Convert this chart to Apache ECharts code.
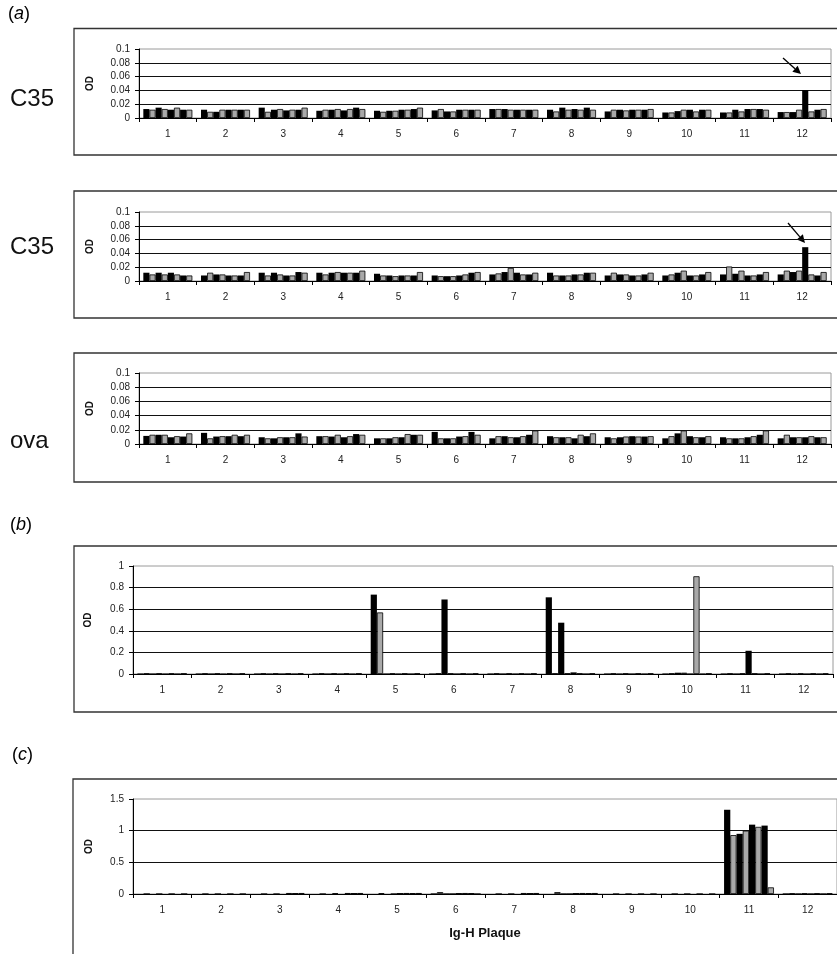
<!DOCTYPE html>
<html>
<head>
<meta charset="utf-8">
<script src="https://cdn.jsdelivr.net/npm/echarts@6/dist/echarts.min.js"></script>
<style>
html,body{margin:0;padding:0;background:#fff;}
#chart{width:837px;height:954px;}
</style>
</head>
<body>
<div id="chart"></div>
<script>
// ---- data ----
const categories = ['1','2','3','4','5','6','7','8','9','10','11','12'];
const panelLabels = ['C35', 'C35', 'ova'];
const xAxisTitle = 'Ig-H Plaque';
const yAxisTitle = 'OD';

// each row = one plaque group (1..12), 8 wells alternating black / gray
const c35First = [
  [0.013,0.012,0.015,0.013,0.012,0.015,0.012,0.012],
  [0.012,0.009,0.009,0.012,0.012,0.012,0.012,0.012],
  [0.015,0.009,0.012,0.013,0.011,0.012,0.012,0.015],
  [0.0105,0.012,0.012,0.013,0.011,0.013,0.015,0.013],
  [0.0105,0.009,0.0105,0.0105,0.012,0.012,0.013,0.015],
  [0.011,0.013,0.0095,0.0095,0.012,0.012,0.012,0.012],
  [0.013,0.013,0.013,0.012,0.012,0.012,0.012,0.012],
  [0.012,0.0095,0.015,0.012,0.013,0.012,0.015,0.012],
  [0.0095,0.012,0.012,0.011,0.012,0.012,0.012,0.013],
  [0.008,0.008,0.010,0.012,0.012,0.0095,0.012,0.012],
  [0.008,0.008,0.012,0.0095,0.013,0.013,0.013,0.012],
  [0.0086,0.0086,0.0086,0.012,0.0405,0.0095,0.012,0.013]
];
const c35Second = [
  [0.012,0.0095,0.012,0.0095,0.012,0.0095,0.008,0.008],
  [0.008,0.012,0.0095,0.0095,0.008,0.008,0.008,0.013],
  [0.012,0.008,0.012,0.0095,0.008,0.008,0.013,0.012],
  [0.012,0.0095,0.012,0.013,0.012,0.012,0.012,0.015],
  [0.0105,0.008,0.008,0.007,0.008,0.008,0.008,0.013],
  [0.008,0.007,0.007,0.007,0.008,0.0095,0.012,0.013],
  [0.0095,0.011,0.013,0.019,0.012,0.0095,0.0095,0.012],
  [0.012,0.008,0.008,0.008,0.0095,0.0095,0.012,0.012],
  [0.008,0.012,0.0095,0.0095,0.008,0.008,0.0095,0.012],
  [0.008,0.0095,0.012,0.015,0.008,0.008,0.0095,0.013],
  [0.0095,0.021,0.0105,0.015,0.008,0.008,0.0095,0.013],
  [0.0095,0.015,0.013,0.015,0.049,0.0095,0.008,0.013]
];
const ovaValues = [
  [0.0114,0.013,0.013,0.013,0.0095,0.011,0.0105,0.015],
  [0.0157,0.008,0.0105,0.011,0.011,0.013,0.011,0.013],
  [0.0095,0.008,0.008,0.0095,0.0095,0.0095,0.015,0.0105],
  [0.011,0.011,0.0105,0.013,0.0095,0.011,0.014,0.013],
  [0.008,0.008,0.008,0.0095,0.0095,0.014,0.013,0.013],
  [0.017,0.008,0.008,0.008,0.0105,0.011,0.017,0.013],
  [0.008,0.011,0.011,0.0095,0.0095,0.011,0.013,0.019],
  [0.011,0.0095,0.0095,0.0095,0.008,0.013,0.011,0.015],
  [0.0095,0.008,0.0095,0.0105,0.011,0.0105,0.0105,0.011],
  [0.008,0.011,0.015,0.019,0.011,0.0095,0.0095,0.011],
  [0.0095,0.008,0.008,0.008,0.0095,0.011,0.013,0.019],
  [0.008,0.013,0.0095,0.0095,0.0095,0.011,0.0095,0.0095]
];
const panelBValues = [
  [0.005,0.005,0.005,0.005,0.005,0.005,0.005,0.005],
  [0.005,0.005,0.005,0.005,0.005,0.005,0.005,0.005],
  [0.005,0.005,0.005,0.005,0.005,0.005,0.005,0.005],
  [0.005,0.005,0.005,0.005,0.005,0.005,0.005,0.005],
  [0.735,0.57,0.005,0.005,0.005,0.005,0.005,0.005],
  [0.005,0.005,0.69,0.005,0.005,0.005,0.005,0.005],
  [0.005,0.005,0.005,0.005,0.005,0.005,0.005,0.005],
  [0.71,0.005,0.475,0.005,0.015,0.005,0.005,0.005],
  [0.005,0.005,0.005,0.005,0.005,0.005,0.005,0.005],
  [0.005,0.005,0.012,0.012,0.005,0.905,0.005,0.005],
  [0.005,0.005,0.005,0.005,0.215,0.005,0.005,0.005],
  [0.005,0.005,0.005,0.005,0.005,0.005,0.005,0.005]
];
const panelCValues = [
  [0,0,0,0,0,0,0,0],
  [0,0,0,0,0,0,0,0],
  [0,0,0,0,0,0.015,0.015,0.015],
  [0,0,0,0.012,0,0.015,0.015,0.015],
  [0,0.012,0,0,0.015,0.015,0.015,0.015],
  [0.01,0.03,0.01,0,0.015,0.015,0.015,0],
  [0,0,0,0,0,0.015,0.015,0.015],
  [0,0.03,0.01,0,0.015,0.015,0.015,0.015],
  [0,0,0,0,0,0,0,0],
  [0,0,0,0,0,0,0,0],
  [1.33,0.93,0.95,1.0,1.095,1.06,1.08,0.105],
  [0.01,0.01,0.01,0.01,0.01,0.01,0.01,0.01]
];

// ---- layout ----
const FONT = '"Liberation Sans", Arial, Helvetica, sans-serif';
const panels = [
  {values: c35First,    left:139, right:6, top:49,  height:69, max:0.1, interval:0.02, nameGap:44},
  {values: c35Second,   left:139, right:6, top:212, height:69, max:0.1, interval:0.02, nameGap:44},
  {values: ovaValues,   left:139, right:6, top:373, height:71, max:0.1, interval:0.02, nameGap:44},
  {values: panelBValues,left:133, right:4, top:566, height:108, max:1, interval:0.2, nameGap:40},
  {values: panelCValues,left:133, right:0, top:799, height:95, max:1.5, interval:0.5, nameGap:39, xName:true}
];

const grid = [], xAxis = [], yAxis = [], series = [];
panels.forEach((p, i) => {
  grid.push({left:p.left, right:p.right, top:p.top, height:p.height, show:true,
    borderColor:'#9a9a9a', borderWidth:1, backgroundColor:'transparent'});
  xAxis.push({type:'category', gridIndex:i, data:categories,
    axisLine:{lineStyle:{color:'#000', width:1}},
    axisTick:{show:true, length:4, lineStyle:{color:'#000'}},
    axisLabel:{fontSize:10, margin:11, color:'#222', fontFamily:FONT},
    splitLine:{show:false},
    name: p.xName ? xAxisTitle : '', nameLocation:'middle', nameGap:33,
    nameTextStyle:{fontSize:13, fontWeight:'bold', color:'#111', fontFamily:FONT}
  });
  yAxis.push({type:'value', gridIndex:i, min:0, max:p.max, interval:p.interval,
    axisLine:{show:true, lineStyle:{color:'#000', width:1}},
    axisTick:{show:true, length:4, lineStyle:{color:'#000'}},
    axisLabel:{fontSize:10, margin:9, color:'#222', fontFamily:FONT},
    splitLine:{show:true, showMaxLine:false, showMinLine:false, lineStyle:{color:'#111', width:1}},
    name:yAxisTitle, nameLocation:'middle', nameRotate:90, nameGap:p.nameGap,
    nameTextStyle:{fontSize:10, fontWeight:'bold', color:'#111', fontFamily:FONT}
  });
  for (let k = 0; k < 8; k++) {
    const black = (k % 2 === 0);
    series.push({type:'bar', xAxisIndex:i, yAxisIndex:i,
      data: p.values.map(row => row[k]),
      barGap:'0%', barCategoryGap:'15%',
      itemStyle:{color: black ? '#000' : '#a9a9a9', borderColor:'#000', borderWidth: black ? 0 : 0.8},
      silent:true, animation:false});
  }
});

function arrow(x1, y1, x2, y2) {
  const dx = x2 - x1, dy = y2 - y1, L = Math.hypot(dx, dy);
  const ux = dx / L, uy = dy / L, nx = -uy, ny = ux;
  const hl = 8, hw = 4;
  const bx = x2 - ux * hl, by = y2 - uy * hl;
  return [
    {type:'line', shape:{x1:x1, y1:y1, x2:bx, y2:by}, style:{stroke:'#000', lineWidth:1.3}},
    {type:'polygon', shape:{points:[[x2,y2],[bx+nx*hw, by+ny*hw],[bx-nx*hw, by-ny*hw]]}, style:{fill:'#000'}}
  ];
}

const boxStyle = {stroke:'#333', fill:'none', lineWidth:1.3};
const lblRich = {i:{fontStyle:'italic', fontSize:18, fontFamily:FONT, fill:'#000'}};
const graphic = [
  {type:'rect', shape:{x:74, y:28.5, width:800, height:126.5}, style:boxStyle},
  {type:'rect', shape:{x:74, y:191, width:800, height:127}, style:boxStyle},
  {type:'rect', shape:{x:74, y:353, width:800, height:129}, style:boxStyle},
  {type:'rect', shape:{x:74, y:546, width:800, height:166}, style:boxStyle},
  {type:'rect', shape:{x:73, y:779, width:800, height:220}, style:boxStyle},
  {type:'text', left:8, top:5, style:{text:'({i|a})', fontSize:18, fontFamily:FONT, fill:'#000', rich:lblRich}},
  {type:'text', left:10, top:516, style:{text:'({i|b})', fontSize:18, fontFamily:FONT, fill:'#000', rich:lblRich}},
  {type:'text', left:12, top:746, style:{text:'({i|c})', fontSize:18, fontFamily:FONT, fill:'#000', rich:lblRich}},
  {type:'text', left:10, top:87, style:{text:panelLabels[0], fontSize:24, fontFamily:FONT, fill:'#111'}},
  {type:'text', left:10, top:235, style:{text:panelLabels[1], fontSize:24, fontFamily:FONT, fill:'#111'}},
  {type:'text', left:10, top:429, style:{text:panelLabels[2], fontSize:24, fontFamily:FONT, fill:'#111'}}
].concat(arrow(783, 58, 801, 74), arrow(788, 223, 805, 243));

const chart = echarts.init(document.getElementById('chart'), null, {renderer:'canvas'});
chart.setOption({
  backgroundColor:'#fff',
  animation:false,
  textStyle:{fontFamily:FONT},
  grid, xAxis, yAxis, series, graphic
});
</script>
</body>
</html>
